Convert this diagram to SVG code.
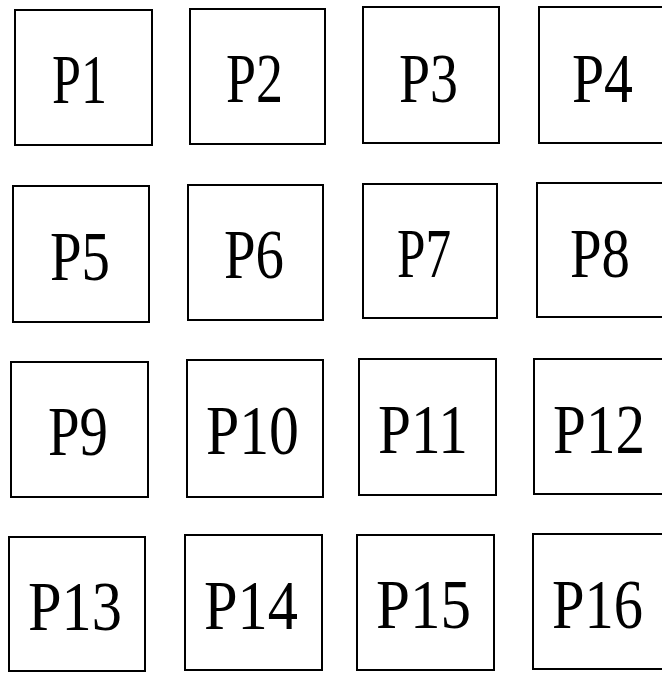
<svg xmlns="http://www.w3.org/2000/svg" width="662" height="673" viewBox="0 0 662 673">
<style>
.box{fill:#fff;stroke:#000;stroke-width:2}
text{font-family:"Liberation Serif","DejaVu Serif",serif;font-size:69px;fill:#000}
</style>
<g id="P1"><rect class="box" x="15" y="10" width="137" height="135"/><text x="52" y="103" textLength="55" lengthAdjust="spacingAndGlyphs">P1</text></g>
<g id="P2"><rect class="box" x="190" y="9" width="135" height="135"/><text x="226" y="102" textLength="57" lengthAdjust="spacingAndGlyphs">P2</text></g>
<g id="P3"><rect class="box" x="363" y="7" width="136" height="136"/><text x="399" y="102" textLength="59" lengthAdjust="spacingAndGlyphs">P3</text></g>
<g id="P4"><rect class="box" x="539" y="7" width="140" height="136"/><text x="572" y="102" textLength="61" lengthAdjust="spacingAndGlyphs">P4</text></g>
<g id="P5"><rect class="box" x="13" y="186" width="136" height="136"/><text x="50" y="280" textLength="60" lengthAdjust="spacingAndGlyphs">P5</text></g>
<g id="P6"><rect class="box" x="188" y="185" width="135" height="135"/><text x="224" y="278" textLength="60" lengthAdjust="spacingAndGlyphs">P6</text></g>
<g id="P7"><rect class="box" x="363" y="184" width="134" height="134"/><text x="397" y="277" textLength="54" lengthAdjust="spacingAndGlyphs">P7</text></g>
<g id="P8"><rect class="box" x="537" y="183" width="140" height="134"/><text x="570" y="277" textLength="60" lengthAdjust="spacingAndGlyphs">P8</text></g>
<g id="P9"><rect class="box" x="11" y="362" width="137" height="135"/><text x="48" y="455" textLength="60" lengthAdjust="spacingAndGlyphs">P9</text></g>
<g id="P10"><rect class="box" x="187" y="360" width="136" height="137"/><text x="206" y="454" textLength="93" lengthAdjust="spacingAndGlyphs">P10</text></g>
<g id="P11"><rect class="box" x="359" y="359" width="137" height="136"/><text x="378" y="453" textLength="90" lengthAdjust="spacingAndGlyphs">P11</text></g>
<g id="P12"><rect class="box" x="534" y="359" width="140" height="135"/><text x="553" y="453" textLength="92" lengthAdjust="spacingAndGlyphs">P12</text></g>
<g id="P13"><rect class="box" x="9" y="537" width="136" height="134"/><text x="28" y="630" textLength="94" lengthAdjust="spacingAndGlyphs">P13</text></g>
<g id="P14"><rect class="box" x="185" y="535" width="137" height="135"/><text x="204" y="629" textLength="94" lengthAdjust="spacingAndGlyphs">P14</text></g>
<g id="P15"><rect class="box" x="357" y="535" width="137" height="135"/><text x="376" y="628" textLength="95" lengthAdjust="spacingAndGlyphs">P15</text></g>
<g id="P16"><rect class="box" x="533" y="534" width="140" height="135"/><text x="552" y="628" textLength="91" lengthAdjust="spacingAndGlyphs">P16</text></g>
<g id="connectors"></g>
</svg>
